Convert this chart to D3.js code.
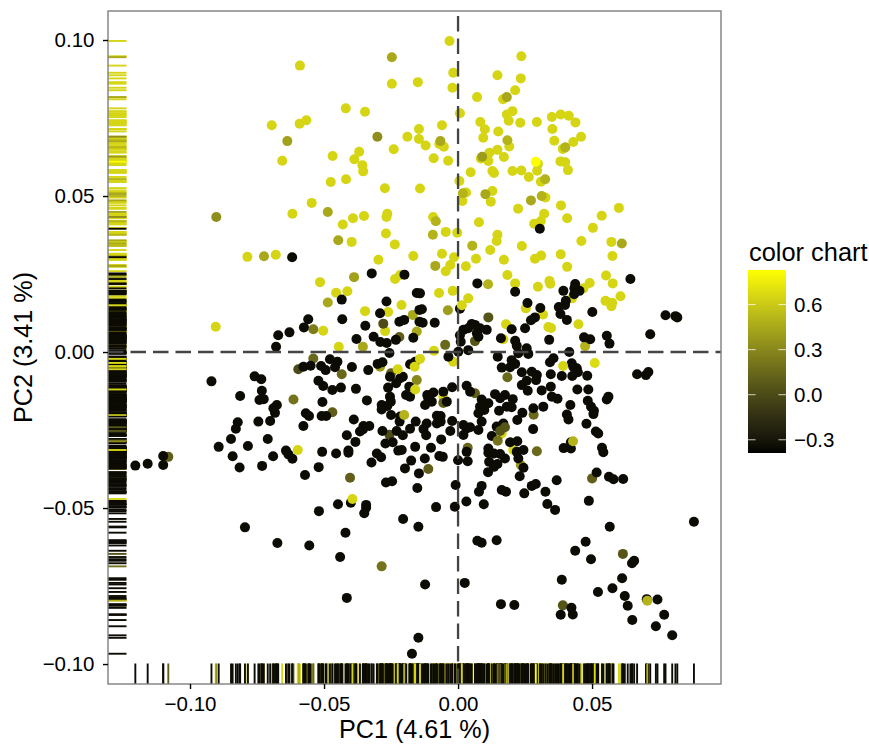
<!DOCTYPE html>
<html>
<head>
<meta charset="utf-8">
<script src="https://cdn.jsdelivr.net/npm/d3@7"></script>
<style>
  html, body { margin: 0; padding: 0; background: #fff; }
  text { font-family: "Liberation Sans", Arial, sans-serif; fill: #000; }
</style>
</head>
<body>
<div id="chart"></div>
<script>
// the yellow cloud, score is about the same for all of them
const yellowPc1 = [-.0590,-.0247,-.0150,-.0419,-.0347,-.0695,-.0591,-.0566,-.0189,-.0146,-.0146,-.0240,-.0468,-.0369,-.0387,-.0357,-.0354,-.0656,-.0418,-.0475,
  -.0032,.0236,-.0018,.0147,.0234,-.0021,.0213,.0071,.0168,.0007,.0203,.0182,.0189,.0232,.0294,.0350,.0383,.0413,.0438,.0083,.0100,.0094,.0150,-.0060,.0352,.0459,.0359,.0430,.0391,.0191,
  -.0070,-.0053,-.0121,.0147,.0117,-.0091,-.0037,.0085,.0113,.0171,.0382,.0400,.0410,.0298,.0295,.0047,.0128,.0134,.0203,.0236,.0264,.0309,.0005,
  -.0273,-.0142,-.0546,-.0618,-.0351,-.0392,-.0430,-.0264,-.0267,-.0269,-.0236,-.0397,-.0786,-.0680,-.0297,-.0167,-.0216,-.0235,-.0515,-.0413,-.0455,-.0211,-.0347,-.0261,-.0503,-.0272,-.0904,-.0445,
  .0030,.0016,.0128,.0122,.0326,.0224,.0384,.0321,.0407,.0600,.0536,.0503,.0284,.0309,-.0093,.0078,-.0046,-.0003,.0147,.0144,.0120,.0238,.0460,.0572,.0576,.0383,.0310,.0287,.0407,.0171,.0067,-.0060,-.0015,-.0029,.0029,-.0046,.0184,.0213,.0552,.0577,.0491,.0341,.0344,.0298,.0468,.0425,.0606,.0550,.0575,.0572,-.0071,-.0020,.0038,.0253,.0317,.0449,.0337,.0347,.0179,.0169,-.0090,-.0018,-.0055,.0206,.0163];
const yellowPc2 = [.0918,.0860,.0865,.0781,.0770,.0727,.0732,.0743,.0690,.0715,.0683,.0650,.0628,.0642,.0618,.0599,.0579,.0613,.0554,.0545,
  .0997,.0948,.0895,.0887,.0877,.0847,.0839,.0817,.0810,.0765,.0772,.0761,.0741,.0735,.0737,.0753,.0761,.0757,.0736,.0737,.0714,.0687,.0707,.0727,.0715,.0690,.0677,.0673,.0651,.0659,
  .0667,.0658,.0662,.0648,.0639,.0621,.0613,.0620,.0612,.0625,.0611,.0608,.0583,.0603,.0581,.0576,.0580,.0574,.0580,.0582,.0561,.0546,.0548,
  .0525,.0524,.0478,.0443,.0436,.0429,.0409,.0443,.0433,.0380,.0345,.0353,.0305,.0312,.0296,.0308,.0247,.0234,.0224,.0195,.0190,.0151,.0131,.0128,.0068,.0067,.0081,.0017,
  .0511,.0484,.0516,.0482,.0495,.0459,.0470,.0443,.0429,.0462,.0437,.0398,.0411,.0420,.0433,.0416,.0385,.0382,.0376,.0356,.0327,.0340,.0356,.0353,.0308,.0313,.0309,.0299,.0273,.0296,.0299,.0315,.0304,.0279,.0275,.0259,.0247,.0220,.0245,.0220,.0221,.0228,.0219,.0209,.0204,.0172,.0179,.0164,.0158,.0147,.0189,.0196,.0172,.0140,.0120,.0089,.0080,.0077,.0089,.0041,.0004,-.0031,-.0143,-.0314,-.0261];

// olive and dark olive points in between
const olivePc1 = [-.0247,-.0637,-.0301,-.0066,.0400,.0184,.0090,.0325,-.0486,-.0902,-.0447,-.0724,-.0388,-.0486,-.0169,-.0540,-.0279,-.0219,-.0154,-.0355,.0018,.0102,.0312,.0272,-.0083,-.0094,.0053,.0611,-.0085,.0112,-.0038,.0113,.0063,.0474,-.0048,-.0540,-.0596,-.0434,-.0291,-.0250,-.0154,-.0614,-.0469,-.0256,-.1081,-.0403,.0184,.0282,.0063,-.0055,.0036,-.0111,.0234,.0294,.0500,-.0285,.0615,.0391];
const olivePc2 = [.0945,.0676,.0690,.0676,.0656,.0679,.0626,.0554,.0449,.0433,.0358,.0307,.0240,.0159,.0119,.0073,.0091,.0048,.0066,.0017,.0509,.0506,.0500,.0486,.0419,.0376,.0341,.0348,.0276,.0217,.0134,.0111,.0035,.0019,.0023,-.0021,-.0055,-.0071,-.0047,-.0068,-.0090,-.0152,-.0193,-.0265,-.0336,-.0403,-.0081,-.0201,-.0132,-.0163,-.0307,-.0375,-.0362,-.0318,-.0405,-.0687,-.0647,-.0812];
const oliveScore = [.45,.42,.33,.45,.5,.5,.4,.5,.45,.33,.45,.45,.42,.45,.45,.25,0,.1,.45,.45,.5,.45,.5,.45,.5,.5,.5,.45,.45,.5,.4,.05,.05,.5,.15,.15,0,.15,.4,.1,.3,.2,.1,0,.1,.1,.15,.15,.1,.1,.15,.1,.4,.15,.1,.2,.05,.05];

// the big black cloud
const blackPc1 = [-.0619,-.0322,-.0200,-.0154,-.0434,-.0267,-.0291,-.0144,-.0559,-.0432,-.0575,-.0346,-.0219,-.0201,-.0144,-.0629,-.0671,-.0679,-.0379,-.0315,-.0290,-.0266,-.0232,-.0167,-.0256,
  .0305,.0643,.0072,.0213,.0437,.0453,.0393,.0434,.0433,.0402,.0399,.0007,.0259,.0307,.0376,.0382,.0501,.0287,.0272,.0406,.0774,.0811,.0818,.0717,.0200,.0250,.0051,.0063,.0020,.0038,.0107,.0082,.0007,.0070,.0076,.0010,.0160,.0213,.0219,.0256,.0340,.0470,.0493,.0555,.0565,.0415,.0001,.0038,-.0142,-.0135,-.0132,-.0087,
  -.0478,-.0450,-.0577,-.0550,-.0511,-.0494,-.0459,-.0396,-.0335,-.0300,-.0282,-.0254,-.0216,-.0206,-.0231,-.0179,-.0160,-.0182,-.0261,-.0920,-.0759,-.0734,-.0521,-.0503,-.0469,-.0437,-.0381,-.0732,-.0813,-.0741,-.0725,-.0506,-.0340,-.0254,-.0251,-.0285,-.0264,-.0285,-.0194,-.0179,-.0676,-.0689,-.0683,-.0568,-.0556,-.0509,-.0492,-.0250,-.0216,-.0218,-.0389,-.0745,-.0701,-.0822,-.0829,-.0577,-.0353,-.0331,-.0355,-.0366,-.0282,-.0158,-.0229,-.0179,-.0206,-.0415,-.0847,-.0710,-.0383,-.0271,-.0244,-.0893,-.0784,-.0160,-.0642,-.0507,-.0409,-.0409,-.0455,-.0633,-.0618,-.0223,-.0210,-.0303,-.0287,-.0323,-.0175,-.1100,-.1100,-.1158,-.1204,-.0841,-.0690,-.0815,-.0731,-.0520,-.0198,-.0146,-.0571,-.0269,-.0246,-.0152,-.0448,-.0400,-.0343,-.0343,-.0350,-.0519,-.0205,
  -.0036,.0148,.0225,.0262,.0200,.0213,.0194,.0163,.0343,.0356,.0424,.0443,.0430,.0426,.0447,.0482,.0387,.0346,.0294,.0275,.0238,.0291,.0256,.0238,.0260,.0312,.0346,.0350,.0371,.0445,.0486,.0668,.0701,.0710,.0561,.0555,.0484,.0496,.0507,.0505,.0419,.0318,.0281,.0240,.0221,.0200,.0182,.0204,.0175,.0157,.0138,.0153,.0113,.0088,.0045,.0032,-.0022,-.0055,-.0092,-.0111,-.0098,-.0123,-.0115,-.0042,.0098,.0082,.0076,.0088,.0076,.0032,.0045,.0020,.0020,-.0022,-.0029,-.0079,-.0065,-.0079,-.0065,-.0117,-.0129,-.0119,-.0063,-.0101,-.0124,-.0070,-.0057,.0000,.0036,.0032,-.0009,.0088,.0078,-.0082,-.0012,.0031,.0096,.0163,.0179,.0247,.0275,.0290,.0326,.0368,.0230,.0333,.0362,.0488,.0517,.0563,.0580,.0616,.0244,.0221,.0194,.0219,.0225,.0244,.0175,.0157,.0134,.0113,.0113,.0116,.0147,.0134,.0112,.0126,.0169,.0144,.0280,.0394,.0421,.0421,.0479,.0514,.0523,.0537,.0542,.0406,.0412,.0880,
  -.0795,-.0674,-.0555,-.0420,-.0440,-.0415,-.0148,-.0172,-.0148,.0566,.0072,.0088,.0144,.0476,.0437,.0496,.0657,.0649,.0387,.0612,-.0123,.0025,.0576,.0522,.0622,.0704,.0744,.0633,.0423,.0160,.0210,.0383,.0428,.0769,.0650,.0738,.0799];
const blackPc2 = [.0304,.0252,.0248,.0189,.0168,.0162,.0124,.0135,.0105,.0105,.0079,.0084,.0097,.0103,.0097,.0063,.0054,.0017,.0042,.0049,.0032,.0029,.0039,.0046,-.0003,
  .0395,.0234,.0220,.0193,.0218,.0196,.0196,.0204,.0185,.0164,.0151,.0139,.0157,.0141,.0144,.0122,.0128,.0111,.0102,.0103,.0118,.0115,.0111,.0057,.0073,.0076,.0090,.0087,.0071,.0076,.0071,.0076,.0054,.0060,.0049,.0033,.0044,.0036,.0020,.0012,.0039,.0047,.0041,.0052,.0027,.0000,.0001,.0006,.0188,.0137,.0094,.0094,
  -.0023,-.0031,-.0047,-.0044,-.0045,-.0058,-.0049,-.0048,-.0058,-.0038,-.0033,-.0079,-.0084,-.0079,-.0100,-.0039,-.0031,-.0111,-.0114,-.0094,-.0078,-.0087,-.0092,-.0109,-.0122,-.0114,-.0118,-.0124,-.0141,-.0154,-.0151,-.0160,-.0155,-.0143,-.0159,-.0170,-.0173,-.0184,-.0138,-.0143,-.0170,-.0180,-.0195,-.0196,-.0205,-.0205,-.0205,-.0202,-.0207,-.0223,-.0216,-.0223,-.0221,-.0225,-.0246,-.0237,-.0237,-.0237,-.0248,-.0255,-.0253,-.0223,-.0253,-.0246,-.0267,-.0267,-.0279,-.0279,-.0288,-.0293,-.0289,-.0304,-.0301,-.0304,-.0316,-.0320,-.0316,-.0323,-.0325,-.0328,-.0342,-.0316,-.0314,-.0325,-.0337,-.0354,-.0348,-.0333,-.0362,-.0358,-.0364,-.0334,-.0334,-.0370,-.0365,-.0369,-.0373,-.0389,-.0394,-.0418,-.0414,-.0436,-.0488,-.0483,-.0490,-.0499,-.0517,-.0510,-.0535,
  -.0015,-.0015,-.0004,-.0006,-.0026,-.0038,-.0049,-.0050,-.0033,-.0020,-.0036,-.0052,-.0047,-.0077,-.0065,-.0076,-.0077,-.0071,-.0074,-.0063,-.0065,-.0090,-.0092,-.0106,-.0124,-.0123,-.0111,-.0143,-.0150,-.0120,-.0120,-.0071,-.0074,-.0064,-.0143,-.0152,-.0156,-.0175,-.0188,-.0199,-.0170,-.0175,-.0180,-.0195,-.0218,-.0177,-.0175,-.0151,-.0138,-.0148,-.0135,-.0188,-.0164,-.0152,-.0127,-.0108,-.0113,-.0127,-.0130,-.0148,-.0159,-.0170,-.0138,-.0159,-.0186,-.0175,-.0196,-.0223,-.0250,-.0245,-.0241,-.0234,-.0266,-.0221,-.0253,-.0204,-.0205,-.0229,-.0223,-.0229,-.0247,-.0267,-.0280,-.0307,-.0341,-.0333,-.0336,-.0347,-.0350,-.0320,-.0426,-.0429,-.0448,-.0497,-.0496,-.0479,-.0488,-.0442,-.0448,-.0453,-.0429,-.0423,-.0448,-.0411,-.0398,-.0487,-.0506,-.0477,-.0386,-.0400,-.0408,-.0407,-.0314,-.0286,-.0289,-.0320,-.0341,-.0371,-.0341,-.0327,-.0325,-.0309,-.0323,-.0352,-.0359,-.0368,-.0385,-.0269,-.0229,-.0239,-.0247,-.0308,-.0309,-.0289,-.0230,-.0255,-.0261,-.0307,-.0321,-.0200,-.0216,-.0544,
  -.0562,-.0612,-.0620,-.0579,-.0657,-.0788,-.0916,-.0967,-.0560,-.0560,-.0605,-.0611,-.0603,-.0608,-.0637,-.0664,-.0669,-.0677,-.0730,-.0725,-.0745,-.0740,-.0757,-.0769,-.0782,-.0792,-.0793,-.0813,-.0820,-.0808,-.0811,-.0842,-.0841,-.0842,-.0859,-.0879,-.0908];

// drawn last, these sit on top of the black ones
const topPc1 = [.0182,.0014,-.0225,-.0162,-.0142,-.0160,.0392,.0510,-.0598,-.0394,-.0201,.0429,.0706,.0148,.0157,.0175,.0290];
const topPc2 = [.0817,.0150,-.0055,-.0047,-.0022,-.0120,-.0045,-.0035,-.0314,-.0471,-.0202,-.0286,-.0797,-.0284,-.0253,-.0241,.0610];
const topScore = [.45,.65,.65,.65,.65,.65,.65,.68,.65,.65,.5,.5,.5,.2,.05,.05,.83];

const YELLOW_SCORE = 0.65;
const BLACK_SCORE = -0.35;
const legendTicks = [-0.3, 0, 0.3, 0.6];

const width = 869, height = 745;
const panel = { left: 108, right: 721, top: 11, bottom: 684 };

// stick everything in one list, order decides what is on top
const points = [];
yellowPc1.forEach((d, i) => points.push({ pc1: d, pc2: yellowPc2[i], score: YELLOW_SCORE }));
olivePc1.forEach((d, i) => points.push({ pc1: d, pc2: olivePc2[i], score: oliveScore[i] }));
blackPc1.forEach((d, i) => points.push({ pc1: d, pc2: blackPc2[i], score: BLACK_SCORE }));
topPc1.forEach((d, i) => points.push({ pc1: d, pc2: topPc2[i], score: topScore[i] }));

const svg = d3.select("#chart").append("svg")
  .attr("width", width)
  .attr("height", height)
  .style("display", "block");

const x = d3.scaleLinear().domain([-0.1306, 0.0981]).range([panel.left, panel.right]);
const y = d3.scaleLinear().domain([-0.1064, 0.1093]).range([panel.bottom, panel.top]);
const color = d3.scaleLinear().domain([-0.388, 0.83]).range(["black", "yellow"]).interpolate(d3.interpolateLab);

// rugs
const rugX = svg.append("g");
rugX.selectAll("line").data(points).enter().append("line")
  .attr("x1", d => x(d.pc1)).attr("x2", d => x(d.pc1))
  .attr("y1", panel.bottom).attr("y2", panel.bottom - 20.5)
  .attr("stroke", d => color(d.score))
  .attr("stroke-width", 1.9);
const rugY = svg.append("g");
rugY.selectAll("line").data(points).enter().append("line")
  .attr("y1", d => y(d.pc2)).attr("y2", d => y(d.pc2))
  .attr("x1", panel.left).attr("x2", panel.left + 18.5)
  .attr("stroke", d => color(d.score))
  .attr("stroke-width", 1.9);

// points
svg.append("g").selectAll("circle").data(points).enter().append("circle")
  .attr("cx", d => x(d.pc1))
  .attr("cy", d => y(d.pc2))
  .attr("r", 5)
  .attr("fill", d => color(d.score));

// zero lines
svg.append("line")
  .attr("x1", panel.left).attr("x2", panel.right)
  .attr("y1", y(0)).attr("y2", y(0))
  .attr("stroke", "#444").attr("stroke-width", 2.3).attr("stroke-dasharray", "15.5,7");
svg.append("line")
  .attr("x1", x(0)).attr("x2", x(0))
  .attr("y1", panel.bottom).attr("y2", panel.top)
  .attr("stroke", "#444").attr("stroke-width", 2.3).attr("stroke-dasharray", "15.5,7");

// panel border
svg.append("rect")
  .attr("x", panel.left).attr("y", panel.top)
  .attr("width", panel.right - panel.left).attr("height", panel.bottom - panel.top)
  .attr("fill", "none").attr("stroke", "#7f7f7f").attr("stroke-width", 1.4);

// axes
const xAxis = svg.append("g")
  .attr("transform", `translate(0,${panel.bottom})`)
  .call(d3.axisBottom(x).tickValues([-0.1, -0.05, 0, 0.05]).tickFormat(d3.format(".2f")).tickSize(5).tickPadding(7.5));
const yAxis = svg.append("g")
  .attr("transform", `translate(${panel.left},0)`)
  .call(d3.axisLeft(y).tickValues([-0.1, -0.05, 0, 0.05, 0.1]).tickFormat(d3.format(".2f")).tickSize(5).tickPadding(8.5));
[xAxis, yAxis].forEach(a => {
  a.select(".domain").remove();
  a.selectAll("line").attr("stroke", "#000").attr("stroke-width", 1.4);
  a.selectAll("text").attr("font-size", 20.5).attr("font-family", '"Liberation Sans", Arial, sans-serif');
});

svg.append("text")
  .attr("x", (panel.left + panel.right) / 2).attr("y", 738)
  .attr("text-anchor", "middle").attr("font-size", 25.2)
  .text("PC1 (4.61 %)");
svg.append("text")
  .attr("transform", `translate(32,${(panel.top + panel.bottom) / 2}) rotate(-90)`)
  .attr("text-anchor", "middle").attr("font-size", 25.2)
  .text("PC2 (3.41 %)");

// legend
const legend = { left: 748, right: 786, top: 270, bottom: 453 };
const legendY = d3.scaleLinear().domain(color.domain()).range([legend.bottom, legend.top]);
const gradient = svg.append("defs").append("linearGradient")
  .attr("id", "colorbar")
  .attr("x1", 0).attr("x2", 0).attr("y1", 1).attr("y2", 0);
const [lo, hi] = color.domain();
d3.range(0, 21).forEach(i => {
  gradient.append("stop")
    .attr("offset", i / 20)
    .attr("stop-color", color(lo + (hi - lo) * i / 20));
});
svg.append("rect")
  .attr("x", legend.left).attr("y", legend.top)
  .attr("width", legend.right - legend.left).attr("height", legend.bottom - legend.top)
  .attr("fill", "url(#colorbar)");
svg.append("text")
  .attr("x", legend.left + 1).attr("y", 261)
  .attr("font-size", 25.4)
  .text("color chart");

const legendTick = svg.append("g").selectAll("g").data(legendTicks).enter().append("g")
  .attr("transform", d => `translate(0,${legendY(d)})`);
legendTick.append("line")
  .attr("x1", legend.left).attr("x2", legend.left + 7.6)
  .attr("stroke", "#fff").attr("stroke-opacity", 0.75);
legendTick.append("line")
  .attr("x1", legend.right - 7.6).attr("x2", legend.right)
  .attr("stroke", "#fff").attr("stroke-opacity", 0.75);
legendTick.append("text")
  .attr("x", 794).attr("dy", "0.36em")
  .attr("font-size", 20.5)
  .text(d => d3.format(".1f")(d));
</script>
</body>
</html>
